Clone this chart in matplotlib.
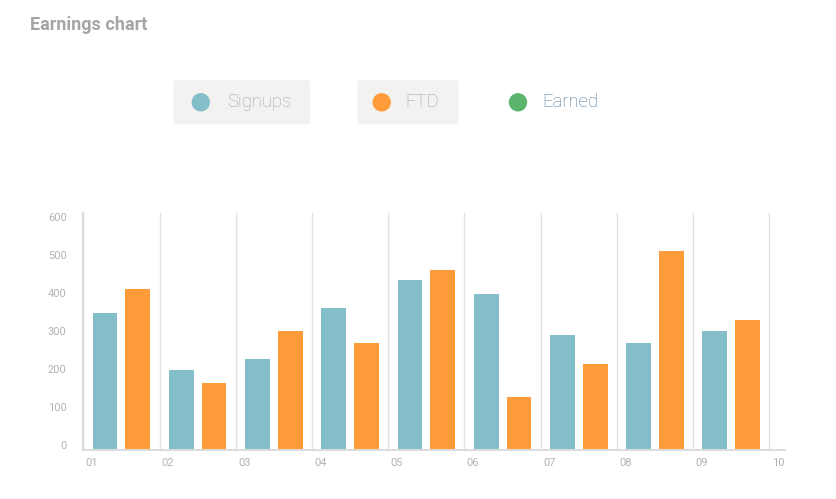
import matplotlib.pyplot as plt
from matplotlib.patches import Circle, FancyBboxPatch

plt.rcParams["font.family"] = ["Roboto", "DejaVu Sans"]

months = ["01", "02", "03", "04", "05", "06", "07", "08", "09", "10"]
signups = [346, 202, 230, 359, 429, 394, 290, 270, 300]
ftd = [406, 169, 300, 270, 455, 134, 217, 503, 328]
y_labels = ["0", "100", "200", "300", "400", "500", "600"]

C_SIGNUPS = "#84bfc9"
C_FTD = "#ff9b38"
C_EARNED = "#5bb56c"
GRID = "#e2e2e2"
LABEL = "#b3b3b3"

W, H = 837, 499
fig = plt.figure(figsize=(W / 100, H / 100), dpi=100)

left, right, top, bottom = 83.3, 785, 212.7, 450
ax = fig.add_axes([left / W, 1 - bottom / H, (right - left) / W, (bottom - top) / H])
n = len(signups)
xs = range(n)
ax.bar([x + 0.285 for x in xs], signups, width=0.325, color=C_SIGNUPS, zorder=2)
ax.bar([x + 0.715 for x in xs], ftd, width=0.325, color=C_FTD, zorder=2)
ax.set_xlim(0, 9.206)
ax.set_ylim(0, 600)

for i in range(len(months)):
    ax.axvline(i, color=GRID, lw=1, zorder=1)
    ax.text(i + 0.03, -13 / 0.396, months[i], ha="left", va="center",
            fontsize=8, color=LABEL)

# y labels drift slightly from the grid steps, as in the reference
ax.set_yticks([12.6 + 96.1 * k for k in range(len(y_labels))], labels=y_labels)
ax.tick_params(axis="y", length=0, pad=12, labelsize=8, labelcolor=LABEL)
ax.set_xticks([])

for side in ["top", "right"]:
    ax.spines[side].set_visible(False)
ax.spines["left"].set_color("#dcdcdc")
ax.spines["left"].set_linewidth(1.6)
ax.spines["bottom"].set_color("#dcdcdc")
ax.spines["bottom"].set_linewidth(1.4)

# overlay for title and legend, in pixel units
ov = fig.add_axes([0, 0, 1, 1])
ov.set_xlim(0, W)
ov.set_ylim(H, 0)
ov.axis("off")

ov.text(30, 25, "Earnings chart", ha="left", va="center", fontsize=13,
        fontweight="bold", color="#a5a5a5")

legend = [
    ("Signups", C_SIGNUPS, 173.3, 310, 200.8, 226.7, "#a2a2a2", True),
    ("FTD", C_FTD, 357.3, 458.7, 381.7, 405, "#a2a2a2", True),
    ("Earned", C_EARNED, None, None, 518, 542.7, "#4e7595", False),
]
for name, color, x0, x1, cx, tx, tcolor, boxed in legend:
    if boxed:
        ov.add_patch(FancyBboxPatch((x0, 80), x1 - x0, 44.3,
                                    boxstyle="round,pad=0,rounding_size=3",
                                    facecolor="#f2f2f0", edgecolor="none"))
    ov.add_patch(Circle((cx, 102.3), 9.2, facecolor=color, edgecolor="none"))
    ov.text(tx, 102.3, name, ha="left", va="center", fontsize=13.3,
            fontweight="light", color=tcolor)

fig.savefig("out.png", dpi=100)
